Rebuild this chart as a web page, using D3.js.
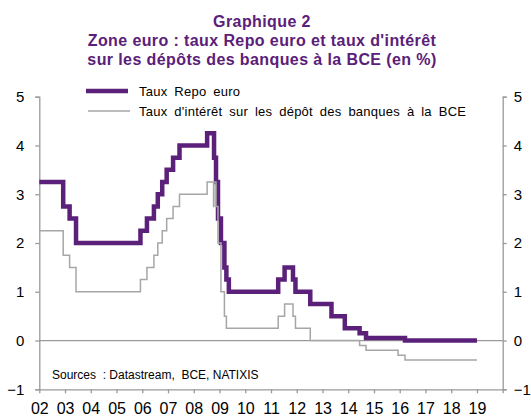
<!DOCTYPE html>
<html>
<head>
<meta charset="utf-8">
<script src="https://cdn.jsdelivr.net/npm/d3@7"></script>
<style>
  body { margin: 0; background: #fff; }
  text { font-family: "Liberation Sans", Arial, sans-serif; }
</style>
</head>
<body>
<div id="chart"></div>
<script>

// Taux Repo euro (taux de refinancement principal), dates of each change
let repoDates = ["2002-01-01","2002-12-06","2003-03-07","2003-06-06","2005-12-06",
  "2006-03-08","2006-06-15","2006-08-09","2006-10-11","2006-12-13","2007-03-14",
  "2007-06-13","2008-07-09","2008-10-15","2008-11-12","2008-12-10","2009-01-21",
  "2009-03-11","2009-04-08","2009-05-13","2011-04-13","2011-07-13","2011-11-09",
  "2011-12-14","2012-07-11","2013-05-08","2013-11-13","2014-06-11","2014-09-10",
  "2016-03-16","2019-01-01"]
let repoValues = [3.25,2.75,2.5,2.0,2.25,
  2.5,2.75,3.0,3.25,3.5,3.75,
  4.0,4.25,3.75,3.25,2.5,2.0,
  1.5,1.25,1.0,1.25,1.5,1.25,
  1.0,0.75,0.5,0.25,0.15,0.05,
  0.0,0.0]

// Taux de la facilité de dépôt
let depoDates = ["2002-01-01","2002-12-06","2003-03-07","2003-06-06","2005-12-06",
  "2006-03-08","2006-06-15","2006-08-09","2006-10-11","2006-12-13","2007-03-14",
  "2007-06-13","2008-07-09","2008-10-08","2008-10-13","2008-11-12","2008-12-10",
  "2009-01-21","2009-03-11","2009-04-08","2011-04-13","2011-07-13","2011-11-09",
  "2011-12-14","2012-07-11","2014-06-11","2014-09-10","2015-12-09","2016-03-16",
  "2019-01-01"]
let depoValues = [2.25,1.75,1.5,1.0,1.25,
  1.5,1.75,2.0,2.25,2.5,2.75,
  3.0,3.25,2.75,3.25,2.75,2.0,
  1.0,0.5,0.25,0.5,0.75,0.5,
  0.25,0.0,-0.1,-0.2,-0.3,-0.4,
  -0.4]

let yTicks = [-1, 0, 1, 2, 3, 4, 5]
let yearTicks = ["2002","2003","2004","2005","2006","2007","2008","2009","2010",
  "2011","2012","2013","2014","2015","2016","2017","2018","2019","2020"]

let titleLines = ["Graphique 2",
  "Zone euro : taux Repo euro et taux d'intérêt",
  "sur les dépôts des banques à la BCE (en %)"]
let legendLabels = ["Taux Repo euro", "Taux d'intérêt sur les dépôt des banques à la BCE"]
let sourceText = "Sources  : Datastream,  BCE, NATIXIS"

let purple = "#5b2079"
let grey = "#a6a6a6"
let axisGrey = "#9a9a9a"

let width = 531, height = 416
let margin = {top: 96.7, right: 28.3, bottom: 26.7, left: 39.3}

let svg = d3.select("#chart").append("svg")
  .attr("width", width)
  .attr("height", height)

let parse = d3.timeParse("%Y-%m-%d")
let parseYear = d3.timeParse("%Y")

let x = d3.scaleTime()
  .domain([parseYear("2002"), parseYear("2020")])
  .range([margin.left, width - margin.right])

let y = d3.scaleLinear()
  .domain([-1, 5])
  .range([height - margin.bottom, margin.top])

// title
svg.selectAll("text.title")
  .data(titleLines)
  .enter()
  .append("text")
  .attr("class", "title")
  .attr("x", 262)
  .attr("y", (d, i) => 26.5 + i * 19.3)
  .attr("text-anchor", "middle")
  .style("font-size", "16px")
  .style("font-weight", "bold")
  .style("letter-spacing", "0.4px")
  .style("fill", purple)
  .text(d => d)

// zero line
svg.append("line")
  .attr("x1", margin.left).attr("x2", width - margin.right)
  .attr("y1", y(0)).attr("y2", y(0))
  .style("stroke", axisGrey)
  .style("stroke-width", 1.3)

// axes
function styleAxis(g) {
  g.selectAll("path, line").style("stroke", axisGrey).style("stroke-width", 1.3)
  g.selectAll("text").style("font-size", "15px").style("fill", "#000")
    .style("font-family", "'Liberation Sans', Arial, sans-serif")
}

svg.append("g")
  .attr("transform", `translate(${margin.left},0)`)
  .call(d3.axisLeft(y).tickValues(yTicks).tickFormat(d3.format("d"))
    .tickSize(4).tickSizeOuter(4).tickPadding(11))
  .call(styleAxis)

svg.append("g")
  .attr("transform", `translate(${width - margin.right},0)`)
  .call(d3.axisRight(y).tickValues(yTicks).tickFormat(d3.format("d"))
    .tickSize(4).tickSizeOuter(4).tickPadding(7))
  .call(styleAxis)

let xAxis = svg.append("g")
  .attr("transform", `translate(0,${height - margin.bottom})`)
  .call(d3.axisBottom(x).tickValues(yearTicks.map(parseYear))
    .tickFormat(d => d.getFullYear() < 2020 ? d3.timeFormat("%y")(d) : "")
    .tickSize(4).tickSizeOuter(0).tickPadding(9))
  .call(styleAxis)
xAxis.selectAll("text").style("font-size", "16px")

// series
let line = d3.line()
  .x(d => x(d.date))
  .y(d => y(d.value))
  .curve(d3.curveStepAfter)

let repo = repoDates.map((d, i) => ({date: parse(d), value: repoValues[i]}))
let depo = depoDates.map((d, i) => ({date: parse(d), value: depoValues[i]}))

svg.append("path")
  .datum(repo)
  .attr("d", line)
  .style("fill", "none")
  .style("stroke", purple)
  .style("stroke-width", 4.5)

svg.append("path")
  .datum(depo)
  .attr("d", line)
  .style("fill", "none")
  .style("stroke", grey)
  .style("stroke-width", 1.5)

// legend
let legend = svg.selectAll("g.legend")
  .data(legendLabels)
  .enter()
  .append("g")
  .attr("class", "legend")
  .attr("transform", (d, i) => `translate(0,${91 + i * 20})`)

legend.append("line")
  .attr("x1", (d, i) => i == 0 ? 86 : 88)
  .attr("x2", (d, i) => i == 0 ? 128 : 130)
  .style("stroke", (d, i) => i == 0 ? purple : grey)
  .style("stroke-width", (d, i) => i == 0 ? 4.5 : 1.5)

legend.append("text")
  .attr("x", 139)
  .attr("y", 4.5)
  .style("font-size", "13px")
  .style("letter-spacing", "0.25px")
  .style("word-spacing", "3px")
  .text(d => d)

// sources
svg.append("text")
  .attr("x", 52)
  .attr("y", 379)
  .style("font-size", "12px")
  .style("white-space", "pre")
  .text(sourceText)

</script>
</body>
</html>
